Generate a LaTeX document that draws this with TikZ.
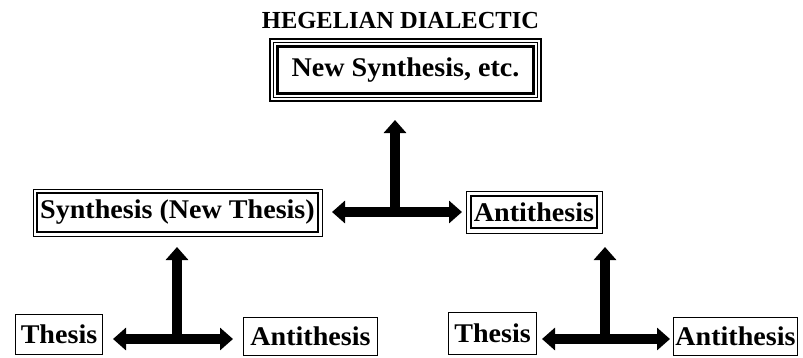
\documentclass[tikz,border=0pt]{standalone}
\usepackage{fontspec}
\setmainfont{Liberation Serif}
\usepackage{graphicx}
\usetikzlibrary{arrows.meta}
\newcommand{\boxtxt}[1]{\scalebox{1.04}[1]{\fontsize{27}{29}\selectfont\bfseries #1}}
\begin{document}
\begin{tikzpicture}[x=1pt,y=-1pt,
  sbox/.style 2 args={draw,line width=1.5pt,inner sep=0pt,outer sep=0pt,minimum width=#1,minimum height=#2},
  dbox/.style 2 args={draw,line width=2.2pt,inner sep=0pt,outer sep=0pt,minimum width=#1,minimum height=#2},
  frame/.style={line width=1pt},
  frameb/.style={line width=1.5pt},
  arr/.style={line width=9.5pt,-{Triangle[width=22pt,length=13pt]}},
  darr/.style={line width=9.5pt,{Triangle[width=22pt,length=13pt]}-{Triangle[width=22pt,length=13pt]}}]
\useasboundingbox (0,0) rectangle (803,357);
\fill[white] (0,0) rectangle (803,357);

% title
\node[inner sep=0pt] (title) at (400.5,21) {\fontsize{24.5}{26}\selectfont\bfseries HEGELIAN DIALECTIC};

% boxes
\node[dbox={256}{47}] (ns) at (405.5,70) {\boxtxt{New Synthesis, etc.}};
\draw[frame] ([shift={(-4,-4)}]ns.north west) rectangle ([shift={(4,4)}]ns.south east);
\draw[frameb] ([shift={(-7.5,-7.5)}]ns.north west) rectangle ([shift={(7.5,7.5)}]ns.south east);

\node[dbox={281}{39}] (syn) at (177.5,212.5) {\boxtxt{Synthesis (New Thesis)}};
\draw[frame] ([shift={(-4,-4)}]syn.north west) rectangle ([shift={(4,4)}]syn.south east);

\node[dbox={126}{32}] (anti) at (534,212) {\boxtxt{Antithesis}};
\draw[frame] ([shift={(-5,-5)}]anti.north west) rectangle ([shift={(5,5)}]anti.south east);

\node[sbox={87}{40}] (tl) at (59,334.5) {\boxtxt{Thesis}};
\node[sbox={134}{38}] (al) at (310.5,336.5) {\boxtxt{Antithesis}};
\node[sbox={88}{42}] (tr) at (492.5,333.5) {\boxtxt{Thesis}};
\node[sbox={124}{38}] (ar) at (735.5,336.5) {\boxtxt{Antithesis}};

% junctions
\coordinate (j1) at (395,212);
\coordinate (j2) at (177,339);
\coordinate (j3) at (605,339);

% arrows
\draw[darr,shorten <=14pt,shorten >=9pt] (j1 -| syn.east) -- (j1 -| anti.west);
\draw[arr,shorten >=26.5pt] (j1) -- (j1 |- ns.south);

\draw[darr,shorten <=10.5pt,shorten >=10.5pt] (j2 -| tl.east) -- (j2 -| al.west);
\draw[arr,shorten >=15pt] (j2) -- (j2 |- syn.south);

\draw[darr,shorten <=5.5pt,shorten >=3.5pt] (j3 -| tr.east) -- (j3 -| ar.west);
\draw[arr,shorten >=19pt] (j3) -- (j3 |- anti.south);
\end{tikzpicture}
\end{document}
